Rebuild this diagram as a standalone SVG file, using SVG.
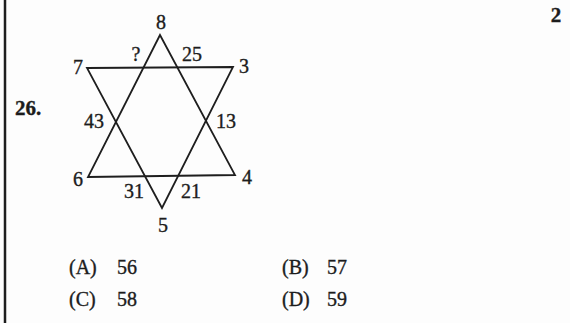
<svg xmlns="http://www.w3.org/2000/svg" width="570" height="323" viewBox="0 0 570 323">
<style>
.t{font-family:"Liberation Serif","Times New Roman",serif;font-size:20px;fill:#1c1c1c;stroke:#1c1c1c;stroke-width:0.35;text-anchor:middle}
.l{text-anchor:start}
.b{font-weight:bold;font-size:21px}
.e{fill:none;stroke:#1e1e1e;stroke-width:1.8;stroke-linejoin:miter}
</style>
<rect width="570" height="323" fill="#fdfdfd"/>
<line x1="5" y1="0" x2="5" y2="323" stroke="#1e1e1e" stroke-width="2.5"/>
<g id="connectors">
<polygon class="e" points="160,35 88,177 235,175"/>
<polygon class="e" points="87,68 233,67 162,208"/>
</g>
<g id="n8"><text class="t" x="161" y="29">8</text></g>
<g id="n7"><text class="t" x="78" y="74">7</text></g>
<g id="n3"><text class="t" x="244" y="73">3</text></g>
<g id="q"><text class="t" x="136" y="61">?</text></g>
<g id="n25"><text class="t" x="192" y="61">25</text></g>
<g id="n43"><text class="t" x="94" y="128">43</text></g>
<g id="n13"><text class="t" x="226" y="128">13</text></g>
<g id="n6"><text class="t" x="78" y="186">6</text></g>
<g id="n4"><text class="t" x="247" y="184">4</text></g>
<g id="n31"><text class="t" x="134" y="198">31</text></g>
<g id="n21"><text class="t" x="191" y="198">21</text></g>
<g id="n5"><text class="t" x="163" y="232">5</text></g>
<g id="qnum"><text class="t l b" x="15" y="115">26.</text></g>
<g id="page"><text class="t b" x="556" y="22">2</text></g>
<g id="optA"><text class="t l" x="69" y="274">(A)</text><text class="t l" x="117" y="274">56</text></g>
<g id="optB"><text class="t l" x="282" y="274">(B)</text><text class="t l" x="327" y="274">57</text></g>
<g id="optC"><text class="t l" x="69" y="306">(C)</text><text class="t l" x="117" y="306">58</text></g>
<g id="optD"><text class="t l" x="282" y="306">(D)</text><text class="t l" x="327" y="306">59</text></g>
</svg>
